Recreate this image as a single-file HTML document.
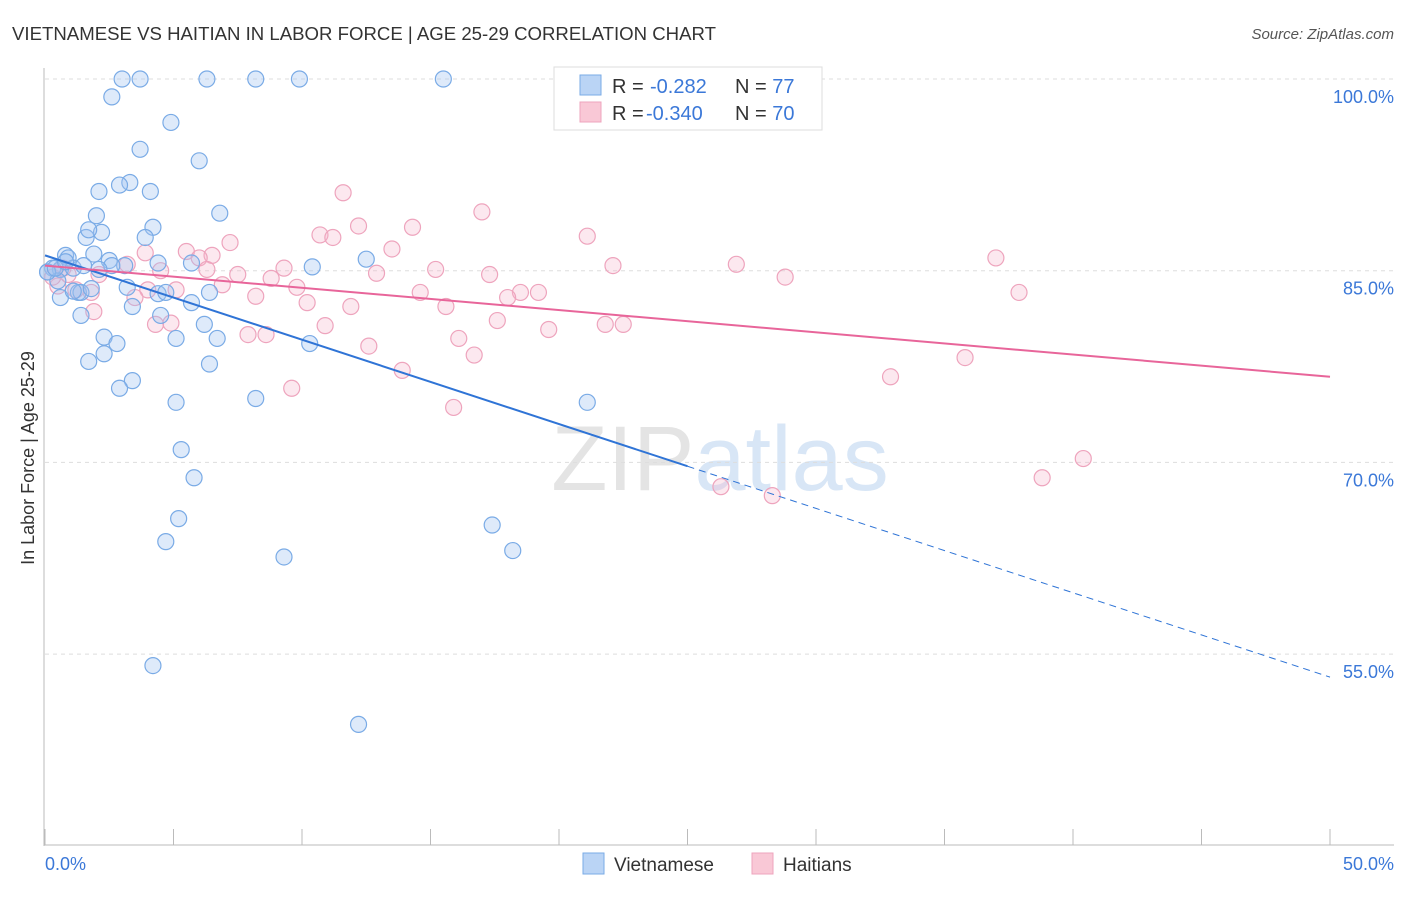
<!DOCTYPE html>
<html><head><meta charset="utf-8"><style>
body{margin:0;background:#fff;font-family:"Liberation Sans",sans-serif;}
svg text{font-family:"Liberation Sans",sans-serif;}
</style></head><body>
<svg id="chart" width="1406" height="892">
<text x="12" y="40" font-size="18" fill="#333" textLength="704" lengthAdjust="spacingAndGlyphs">VIETNAMESE VS HAITIAN IN LABOR FORCE | AGE 25-29 CORRELATION CHART</text>
<text x="1394" y="39" font-size="15" fill="#555" font-style="italic" text-anchor="end">Source: ZipAtlas.com</text>
<text x="720" y="490" font-size="92" fill="#e4e4e4" text-anchor="middle" font-family="Liberation Serif">ZIP<tspan fill="#d8e6f6" font-family="Liberation Sans">atlas</tspan></text>
<g id="grid"></g><g id="axes"></g><g id="pts"></g><g id="lines"></g>
<text x="34" y="458" font-size="18" fill="#333" text-anchor="middle" transform="rotate(-90 34 458)">In Labor Force | Age 25-29</text>
<text x="45" y="870" font-size="18" fill="#3b78d8">0.0%</text>
<text x="1394" y="870" font-size="18" fill="#3b78d8" text-anchor="end">50.0%</text>
<g>
<rect x="554" y="67" width="268" height="63" fill="#fff" stroke="#ddd"/>
<rect x="580" y="75" width="21" height="20" fill="#bad4f5" stroke="#7aabe6"/>
<rect x="580" y="102" width="21" height="20" fill="#f9c8d6" stroke="#eea4bd"/>
<text x="612" y="93" font-size="20" fill="#333">R = <tspan fill="#3b78d8" x="650">-0.282</tspan><tspan x="735">N = </tspan><tspan fill="#3b78d8">77</tspan></text>
<text x="612" y="120" font-size="20" fill="#333">R = <tspan fill="#3b78d8" x="646">-0.340</tspan><tspan x="735">N = </tspan><tspan fill="#3b78d8">70</tspan></text>
</g>
<g>
<rect x="583" y="853" width="21" height="21" fill="#bad4f5" stroke="#7aabe6"/>
<text x="614" y="871" font-size="19" fill="#333">Vietnamese</text>
<rect x="752" y="853" width="21" height="21" fill="#f9c8d6" stroke="#eea4bd"/>
<text x="783" y="871" font-size="19" fill="#333">Haitians</text>
</g>
</svg>
<script>
const yTicks=[100,85,70,55];
const yTickLabels=["100.0%","85.0%","70.0%","55.0%"];
const xTicks=[0,5,10,15,20,25,30,35,40,45,50];
const blueX=[3.0,3.7,6.3,8.2,9.9,15.5,2.6,4.9,3.7,6.0,3.3,2.9,2.1,4.1,2.0,6.8,4.2,1.6,2.2,3.9,1.7,0.8,1.9,0.9,2.5,3.1,4.4,5.7,10.4,12.5,0.3,0.6,1.1,0.1,0.5,1.3,1.4,1.8,0.6,3.2,4.4,4.7,6.4,3.4,5.7,1.4,4.5,6.2,2.3,2.8,5.1,6.7,10.3,2.3,1.7,6.4,3.4,2.9,5.1,8.2,21.1,5.3,5.8,5.2,17.4,4.7,18.2,9.3,4.2,12.2,0.1,0.4,0.8,2.6,2.1,1.5,1.1];
const blueY=[100,100,100,100,100,100,98.6,96.6,94.5,93.6,91.9,91.7,91.2,91.2,89.3,89.5,88.4,87.6,88.0,87.6,88.2,86.2,86.3,86.0,85.8,85.4,85.6,85.6,85.3,85.9,85.2,85.1,85.2,84.9,84.2,83.3,83.3,83.6,82.9,83.7,83.2,83.3,83.3,82.2,82.5,81.5,81.5,80.8,79.8,79.3,79.7,79.7,79.3,78.5,77.9,77.7,76.4,75.8,74.7,75.0,74.7,71.0,68.8,65.6,65.1,63.8,63.1,62.6,54.1,49.5,84.9,85.2,85.7,85.4,85.1,85.4,83.4];
const pinkX=[29.2,11.6,17.0,12.2,14.3,21.1,10.7,11.2,7.2,13.5,5.5,6.5,3.9,6.0,37.0,22.1,26.9,9.3,6.3,15.2,4.5,17.3,7.5,8.8,12.9,28.8,6.9,9.8,5.1,4.0,18.5,19.2,14.6,37.9,3.5,1.8,8.2,18.0,10.2,11.9,15.6,1.9,17.6,4.3,4.9,10.9,19.6,21.8,22.5,7.9,8.6,16.1,12.6,16.7,35.8,13.9,32.9,9.6,15.9,40.4,38.8,26.3,28.3,0.5,0.3,0.9,1.2,2.1,3.2,0.7];
const pinkY=[99.9,91.1,89.6,88.5,88.4,87.7,87.8,87.6,87.2,86.7,86.5,86.2,86.4,86.0,86.0,85.4,85.5,85.2,85.1,85.1,85.0,84.7,84.7,84.4,84.8,84.5,83.9,83.7,83.5,83.5,83.3,83.3,83.3,83.3,82.9,83.3,83.0,82.9,82.5,82.2,82.2,81.8,81.1,80.8,80.9,80.7,80.4,80.8,80.8,80.0,80.0,79.7,79.1,78.4,78.2,77.2,76.7,75.8,74.3,70.3,68.8,68.1,67.4,83.8,84.5,84.7,83.5,84.7,85.5,85.2];
const blueFit=[86.2,53.2];
const pinkFit=[85.4,76.7];
const NS="http://www.w3.org/2000/svg";
const xs=v=>45+v*25.7;
const ys=v=>79+(100-v)*12.78;
function mk(tag,attrs,parent){const e=document.createElementNS(NS,tag);for(const k in attrs)e.setAttribute(k,attrs[k]);parent.appendChild(e);return e;}
const grid=document.getElementById('grid'),axes=document.getElementById('axes'),pts=document.getElementById('pts'),lines=document.getElementById('lines');
yTicks.forEach((t,i)=>{
 const l=mk('line',{x1:45,x2:1394,y1:ys(t),y2:ys(t),stroke:'#ddd','stroke-dasharray':'4,4'},grid);
 
 
 const tx=mk('text',{x:1394,y:ys(t)+24,'font-size':18,fill:'#3b78d8','text-anchor':'end'},grid);
 tx.textContent=yTickLabels[i];
 
 
});
const ya=mk('line',{x1:44,x2:44,y1:68,y2:846,stroke:'#bbb'},axes);


const xa=mk('line',{x1:44,x2:1394,y1:845,y2:845,stroke:'#bbb'},axes);


xTicks.forEach(t=>{
 const l=mk('line',{x1:xs(t),x2:xs(t),y1:829,y2:845,stroke:'#bbb'},axes);
 
 
});
function dots(X,Y,fill,stroke,name){
 X.forEach((x,i)=>{
  const c=mk('circle',{cx:xs(x),cy:ys(Y[i]),r:8,fill:fill,stroke:stroke,'stroke-width':1.2},pts);
  
  
 });
}
dots(pinkX,pinkY,'rgba(246,180,202,0.3)','#eea4bd','haitian-point');
dots(blueX,blueY,'rgba(160,196,240,0.35)','#7aabe6','vietnamese-point');
const yb=x=>blueFit[0]+(blueFit[1]-blueFit[0])*x/50;
const b1=mk('line',{x1:xs(0),y1:ys(yb(0)),x2:xs(25),y2:ys(yb(25)),stroke:'#2f74d6','stroke-width':2},lines);


const b2=mk('line',{x1:xs(25),y1:ys(yb(25)),x2:xs(50),y2:ys(yb(50)),stroke:'#2f74d6','stroke-width':1,'stroke-dasharray':'7,5'},lines);


const p1=mk('line',{x1:xs(0),y1:ys(pinkFit[0]),x2:xs(50),y2:ys(pinkFit[1]),stroke:'#e8659a','stroke-width':2},lines);


</script>
</body></html>
